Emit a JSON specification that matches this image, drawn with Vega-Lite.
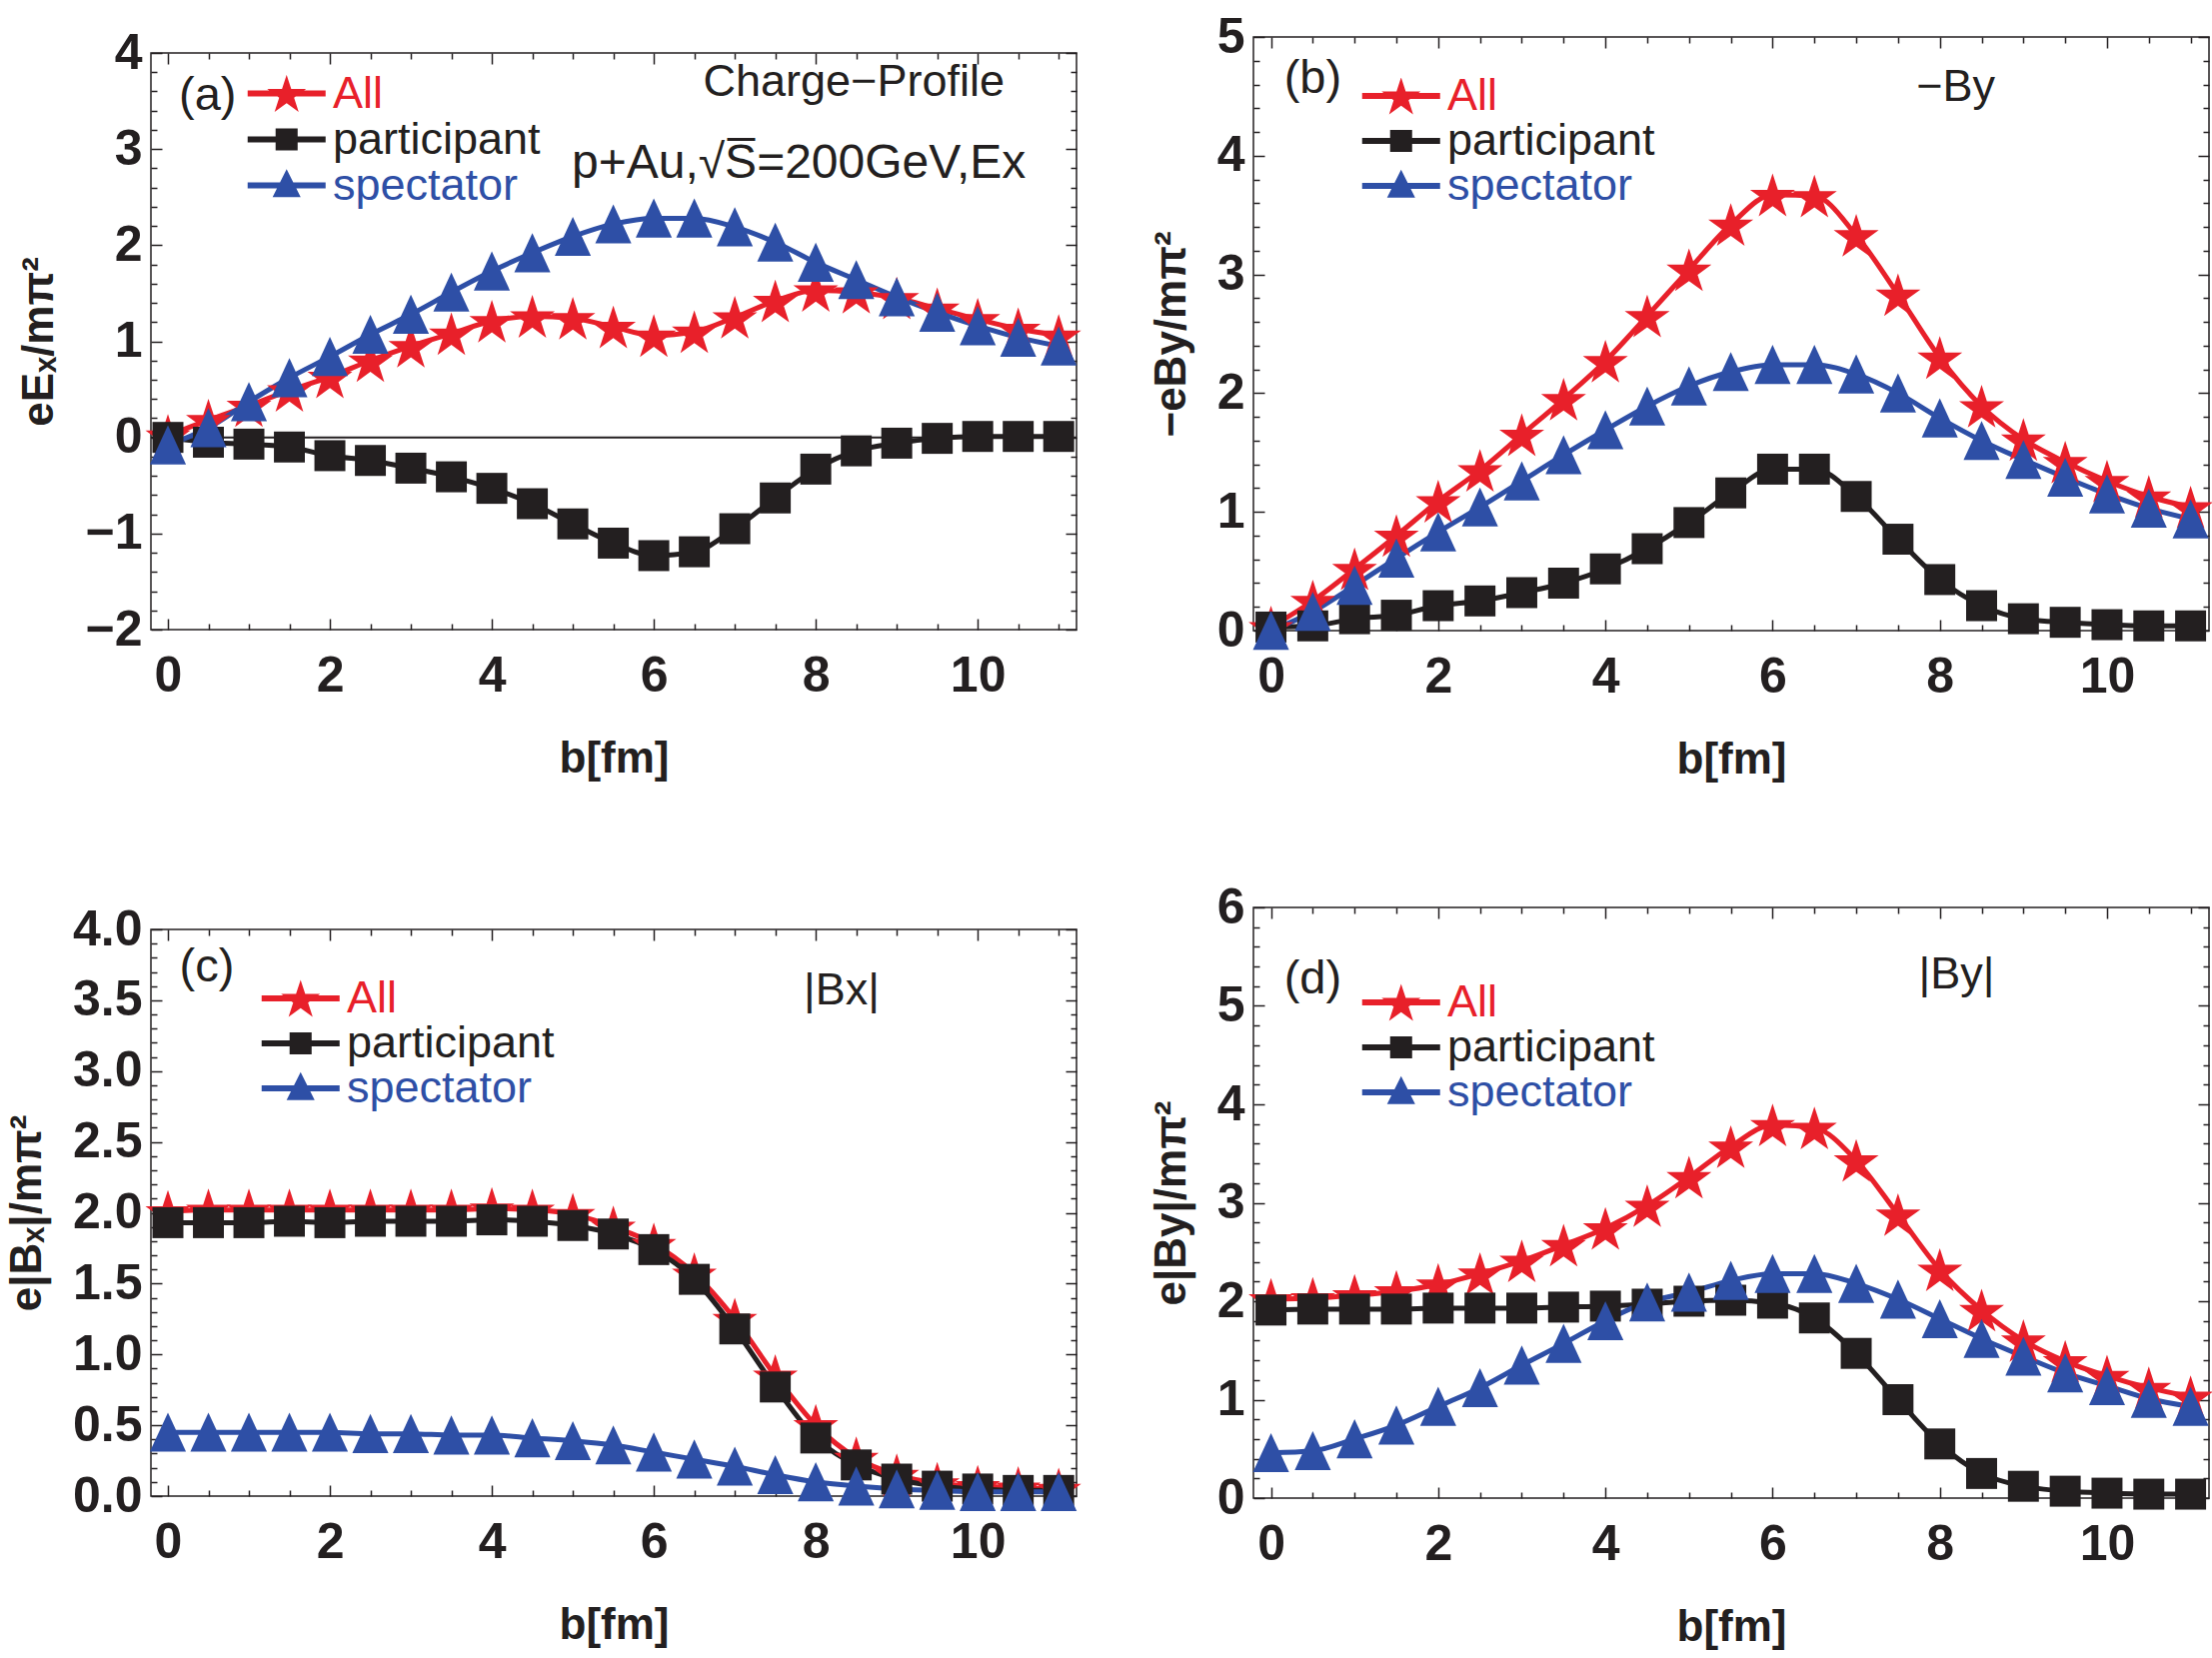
{
  "$schema": "https://vega.github.io/schema/vega-lite/v6.json",
  "background": "white",
  "padding": {"left": 4, "top": 10, "right": 0, "bottom": 0},
  "datasets": {
    "a": [
      {"b": 0, "All": 0.02, "participant": 0.0, "spectator": -0.08},
      {"b": 0.5, "All": 0.18, "participant": -0.05, "spectator": 0.10},
      {"b": 1, "All": 0.33, "participant": -0.07, "spectator": 0.37},
      {"b": 1.5, "All": 0.49, "participant": -0.10, "spectator": 0.62},
      {"b": 2, "All": 0.63, "participant": -0.19, "spectator": 0.84},
      {"b": 2.5, "All": 0.80, "participant": -0.24, "spectator": 1.07},
      {"b": 3, "All": 0.95, "participant": -0.32, "spectator": 1.28},
      {"b": 3.5, "All": 1.08, "participant": -0.41, "spectator": 1.51},
      {"b": 4, "All": 1.21, "participant": -0.53, "spectator": 1.73},
      {"b": 4.5, "All": 1.26, "participant": -0.69, "spectator": 1.92},
      {"b": 5, "All": 1.24, "participant": -0.90, "spectator": 2.09},
      {"b": 5.5, "All": 1.15, "participant": -1.10, "spectator": 2.22},
      {"b": 6, "All": 1.06, "participant": -1.23, "spectator": 2.28},
      {"b": 6.5, "All": 1.10, "participant": -1.19, "spectator": 2.28},
      {"b": 7, "All": 1.25, "participant": -0.95, "spectator": 2.19},
      {"b": 7.5, "All": 1.42, "participant": -0.63, "spectator": 2.03},
      {"b": 8, "All": 1.53, "participant": -0.33, "spectator": 1.82},
      {"b": 8.5, "All": 1.51, "participant": -0.14, "spectator": 1.64},
      {"b": 9, "All": 1.45, "participant": -0.06, "spectator": 1.46},
      {"b": 9.5, "All": 1.34, "participant": -0.01, "spectator": 1.30},
      {"b": 10, "All": 1.23, "participant": 0.01, "spectator": 1.16},
      {"b": 10.5, "All": 1.13, "participant": 0.01, "spectator": 1.04},
      {"b": 11, "All": 1.06, "participant": 0.01, "spectator": 0.95}
    ],
    "b": [
      {"b": 0, "All": 0.03, "participant": 0.03, "spectator": 0.0},
      {"b": 0.5, "All": 0.25, "participant": 0.04, "spectator": 0.16},
      {"b": 1, "All": 0.52, "participant": 0.10, "spectator": 0.38},
      {"b": 1.5, "All": 0.80, "participant": 0.13, "spectator": 0.61},
      {"b": 2, "All": 1.09, "participant": 0.21, "spectator": 0.83},
      {"b": 2.5, "All": 1.35, "participant": 0.25, "spectator": 1.04},
      {"b": 3, "All": 1.65, "participant": 0.32, "spectator": 1.26},
      {"b": 3.5, "All": 1.95, "participant": 0.40, "spectator": 1.48},
      {"b": 4, "All": 2.27, "participant": 0.52, "spectator": 1.69},
      {"b": 4.5, "All": 2.65, "participant": 0.69, "spectator": 1.89},
      {"b": 5, "All": 3.04, "participant": 0.91, "spectator": 2.06},
      {"b": 5.5, "All": 3.42, "participant": 1.16, "spectator": 2.18},
      {"b": 6, "All": 3.67, "participant": 1.36, "spectator": 2.24},
      {"b": 6.5, "All": 3.66, "participant": 1.36, "spectator": 2.24},
      {"b": 7, "All": 3.33, "participant": 1.13, "spectator": 2.16},
      {"b": 7.5, "All": 2.83, "participant": 0.77, "spectator": 2.00},
      {"b": 8, "All": 2.30, "participant": 0.43, "spectator": 1.79},
      {"b": 8.5, "All": 1.89, "participant": 0.21, "spectator": 1.60},
      {"b": 9, "All": 1.61, "participant": 0.10, "spectator": 1.44},
      {"b": 9.5, "All": 1.42, "participant": 0.07, "spectator": 1.29},
      {"b": 10, "All": 1.26, "participant": 0.05, "spectator": 1.15},
      {"b": 10.5, "All": 1.13, "participant": 0.04, "spectator": 1.03},
      {"b": 11, "All": 1.04, "participant": 0.04, "spectator": 0.94}
    ],
    "c": [
      {"b": 0, "All": 2.01, "participant": 1.93, "spectator": 0.45},
      {"b": 0.5, "All": 2.02, "participant": 1.93, "spectator": 0.45},
      {"b": 1, "All": 2.02, "participant": 1.93, "spectator": 0.45},
      {"b": 1.5, "All": 2.02, "participant": 1.94, "spectator": 0.45},
      {"b": 2, "All": 2.02, "participant": 1.93, "spectator": 0.45},
      {"b": 2.5, "All": 2.02, "participant": 1.94, "spectator": 0.44},
      {"b": 3, "All": 2.02, "participant": 1.94, "spectator": 0.44},
      {"b": 3.5, "All": 2.02, "participant": 1.94, "spectator": 0.43},
      {"b": 4, "All": 2.03, "participant": 1.95, "spectator": 0.43},
      {"b": 4.5, "All": 2.02, "participant": 1.94, "spectator": 0.41},
      {"b": 5, "All": 1.99, "participant": 1.91, "spectator": 0.39},
      {"b": 5.5, "All": 1.90, "participant": 1.85, "spectator": 0.36},
      {"b": 6, "All": 1.78, "participant": 1.74, "spectator": 0.31},
      {"b": 6.5, "All": 1.57, "participant": 1.53, "spectator": 0.26},
      {"b": 7, "All": 1.25, "participant": 1.18, "spectator": 0.21},
      {"b": 7.5, "All": 0.85, "participant": 0.77, "spectator": 0.15},
      {"b": 8, "All": 0.50, "participant": 0.41, "spectator": 0.10},
      {"b": 8.5, "All": 0.27, "participant": 0.22, "spectator": 0.07},
      {"b": 9, "All": 0.15, "participant": 0.12, "spectator": 0.05},
      {"b": 9.5, "All": 0.09, "participant": 0.07, "spectator": 0.04},
      {"b": 10, "All": 0.07, "participant": 0.05, "spectator": 0.03},
      {"b": 10.5, "All": 0.06, "participant": 0.04, "spectator": 0.03},
      {"b": 11, "All": 0.05, "participant": 0.04, "spectator": 0.03}
    ],
    "d": [
      {"b": 0, "All": 2.02, "participant": 1.91, "spectator": 0.46},
      {"b": 0.5, "All": 2.03, "participant": 1.92, "spectator": 0.48},
      {"b": 1, "All": 2.06, "participant": 1.92, "spectator": 0.60},
      {"b": 1.5, "All": 2.10, "participant": 1.92, "spectator": 0.74},
      {"b": 2, "All": 2.17, "participant": 1.93, "spectator": 0.93},
      {"b": 2.5, "All": 2.28, "participant": 1.93, "spectator": 1.12},
      {"b": 3, "All": 2.41, "participant": 1.93, "spectator": 1.35},
      {"b": 3.5, "All": 2.57, "participant": 1.94, "spectator": 1.57},
      {"b": 4, "All": 2.74, "participant": 1.95, "spectator": 1.80},
      {"b": 4.5, "All": 2.97, "participant": 1.97, "spectator": 1.99},
      {"b": 5, "All": 3.26, "participant": 2.00, "spectator": 2.09},
      {"b": 5.5, "All": 3.57, "participant": 2.01, "spectator": 2.21},
      {"b": 6, "All": 3.79, "participant": 1.98, "spectator": 2.28},
      {"b": 6.5, "All": 3.76, "participant": 1.83, "spectator": 2.28},
      {"b": 7, "All": 3.43, "participant": 1.47, "spectator": 2.18},
      {"b": 7.5, "All": 2.88, "participant": 1.00, "spectator": 2.02},
      {"b": 8, "All": 2.32, "participant": 0.55, "spectator": 1.82},
      {"b": 8.5, "All": 1.91, "participant": 0.25, "spectator": 1.62},
      {"b": 9, "All": 1.60, "participant": 0.12, "spectator": 1.44},
      {"b": 9.5, "All": 1.39, "participant": 0.07, "spectator": 1.27},
      {"b": 10, "All": 1.24, "participant": 0.05, "spectator": 1.14},
      {"b": 10.5, "All": 1.12, "participant": 0.04, "spectator": 1.01},
      {"b": 11, "All": 1.03, "participant": 0.04, "spectator": 0.93}
    ]
  },
  "hconcat": [
    {
      "concat": [
        {
          "concat": [
            {
              "width": 1,
              "height": 17,
              "view": {"stroke": null},
              "data": {"values": [{}]},
              "mark": {"type": "point", "size": 0, "opacity": 0},
              "encoding": {}
            },
            {
              "width": 926,
              "height": 577,
              "data": {"name": "a"},
              "transform": [{"fold": ["All", "participant", "spectator"], "as": ["series", "v"]}],
              "layer": [
                {
                  "data": {"values": [{}]},
                  "mark": {"type": "rule", "color": "#231f20", "strokeWidth": 2},
                  "encoding": {"y": {"datum": 0, "type": "quantitative", "axis": null}}
                },
                {
                  "mark": {"type": "line", "strokeWidth": 5, "interpolate": "monotone"},
                  "encoding": {
                    "x": {
                      "field": "b", "type": "quantitative",
                      "scale": {"domain": [-0.21, 11.22], "nice": false, "zero": false},
                      "axis": {
                        "orient": "bottom", "title": "b[fm]",
                        "values": [0, 0.5, 1, 1.5, 2, 2.5, 3, 3.5, 4, 4.5, 5, 5.5, 6, 6.5, 7, 7.5, 8, 8.5, 9, 9.5, 10, 10.5, 11],
                        "labelExpr": "datum.value % 2 === 0 ? format(datum.value, 'd') : ''",
                        "tickSize": {"condition": {"test": "datum.value % 2 === 0", "value": -11}, "value": -6},
                        "labelPadding": 32, "titlePadding": 31
                      }
                    },
                    "y": {
                      "field": "v", "type": "quantitative",
                      "scale": {"domain": [-2, 4], "nice": false, "zero": false},
                      "axis": {
                        "orient": "left", "title": "eEₓ/mπ²",
                        "values": [-2, -1.8, -1.6, -1.4, -1.2, -1, -0.8, -0.6, -0.4, -0.2, 0, 0.2, 0.4, 0.6, 0.8, 1, 1.2, 1.4, 1.6, 1.8, 2, 2.2, 2.4, 2.6, 2.8, 3, 3.2, 3.4, 3.6, 3.8, 4],
                        "labelExpr": "datum.value % 1 === 0 ? format(datum.value, 'd') : ''",
                        "tickSize": {"condition": {"test": "datum.value % 1 === 0", "value": -11}, "value": -6},
                        "labelPadding": 20, "titlePadding": 23
                      }
                    },
                    "color": {
                      "field": "series", "type": "nominal",
                      "scale": {"domain": ["All", "participant", "spectator"], "range": ["#e8202a", "#231f20", "#2e4fa6"]},
                      "legend": {
                        "title": null, "orient": "none", "legendX": 93, "legendY": 22, "clipHeight": 37,
                        "encode": {
                          "symbols": {"update": {
                            "shape": {"signal": "datum.value === 'All' ? 'M-1.25,-0.203H3.95V0.203H-1.25Z M1.35,-1.241L1.657,-0.296L2.651,-0.296L1.847,0.288L2.154,1.234L1.35,0.65L0.546,1.234L0.853,0.288L0.049,-0.296L1.043,-0.296Z' : datum.value === 'participant' ? 'M-1.25,-0.203H3.95V0.203H-1.25Z M0.615,-0.735H2.085V0.735H0.615Z' : 'M-1.25,-0.203H3.95V0.203H-1.25Z M1.35,-1.077L2.287,0.785L0.413,0.785Z'"},
                            "fill": {"signal": "datum.value === 'All' ? '#e8202a' : datum.value === 'participant' ? '#231f20' : '#2e4fa6'"},
                            "stroke": {"value": "transparent"},
                            "strokeWidth": {"value": 0},
                            "opacity": {"value": 1}
                          }},
                          "labels": {"update": {
                            "fill": {"signal": "datum.value === 'All' ? '#e8202a' : datum.value === 'participant' ? '#231f20' : '#2e4fa6'"}
                          }}
                        }
                      }
                    }
                  }
                },
                {
                  "transform": [{"filter": "datum.series === 'All'"}],
                  "mark": {"type": "point", "filled": true, "opacity": 1, "strokeWidth": 0, "size": 1850, "color": "#e8202a", "shape": "M0,-0.995L0.247,-0.235L1.046,-0.235L0.4,0.235L0.647,0.995L0,0.525L-0.647,0.995L-0.4,0.235L-1.046,-0.235L-0.247,-0.235Z"},
                  "encoding": {"x": {"field": "b", "type": "quantitative", "axis": null}, "y": {"field": "v", "type": "quantitative", "axis": null}}
                },
                {
                  "transform": [{"filter": "datum.series === 'participant'"}],
                  "mark": {"type": "point", "filled": true, "opacity": 1, "strokeWidth": 0, "size": 1850, "color": "#231f20", "shape": "M-0.72,-0.72H0.72V0.72H-0.72Z"},
                  "encoding": {"x": {"field": "b", "type": "quantitative", "axis": null}, "y": {"field": "v", "type": "quantitative", "axis": null}}
                },
                {
                  "transform": [{"filter": "datum.series === 'spectator'"}],
                  "mark": {"type": "point", "filled": true, "opacity": 1, "strokeWidth": 0, "size": 1850, "color": "#2e4fa6", "shape": "M0,-0.92L0.84,0.9L-0.84,0.9Z"},
                  "encoding": {
                    "x": {
                      "field": "b", "type": "quantitative",
                      "axis": {
                        "orient": "top", "title": null, "labels": false,
                        "values": [0, 0.5, 1, 1.5, 2, 2.5, 3, 3.5, 4, 4.5, 5, 5.5, 6, 6.5, 7, 7.5, 8, 8.5, 9, 9.5, 10, 10.5, 11],
                        "tickSize": {"condition": {"test": "datum.value % 2 === 0", "value": -11}, "value": -6}
                      }
                    },
                    "y": {
                      "field": "v", "type": "quantitative",
                      "axis": {
                        "orient": "right", "title": null, "labels": false,
                        "values": [-2, -1.8, -1.6, -1.4, -1.2, -1, -0.8, -0.6, -0.4, -0.2, 0, 0.2, 0.4, 0.6, 0.8, 1, 1.2, 1.4, 1.6, 1.8, 2, 2.2, 2.4, 2.6, 2.8, 3, 3.2, 3.4, 3.6, 3.8, 4],
                        "tickSize": {"condition": {"test": "datum.value % 1 === 0", "value": -11}, "value": -6}
                      }
                    }
                  }
                },
                {
                  "data": {"values": [{}]},
                  "mark": {"type": "text", "text": "(a)", "fontSize": 47, "align": "center", "baseline": "middle"},
                  "encoding": {"x": {"datum": 0.49, "type": "quantitative", "axis": null}, "y": {"datum": 3.55, "type": "quantitative", "axis": null}}
                },
                {
                  "data": {"values": [{}]},
                  "mark": {"type": "text", "text": "Charge−Profile", "fontSize": 45, "align": "center", "baseline": "middle"},
                  "encoding": {"x": {"datum": 8.47, "type": "quantitative", "axis": null}, "y": {"datum": 3.70, "type": "quantitative", "axis": null}}
                },
                {
                  "data": {"values": [{}]},
                  "mark": {"type": "text", "text": "p+Au,√S̅=200GeV,Ex", "fontSize": 48, "align": "center", "baseline": "middle"},
                  "encoding": {"x": {"datum": 7.79, "type": "quantitative", "axis": null}, "y": {"datum": 2.85, "type": "quantitative", "axis": null}}
                }
              ],
              "resolve": {"axis": {"x": "independent", "y": "independent"}}
            }
          ],
          "columns": 1,
          "spacing": 0,
          "resolve": {"scale": {"color": "independent"}, "legend": {"color": "independent"}}
        },
        {
          "width": 926,
          "height": 567,
          "data": {"name": "c"},
          "transform": [{"fold": ["All", "participant", "spectator"], "as": ["series", "v"]}],
          "layer": [
            {
              "mark": {"type": "line", "strokeWidth": 5, "interpolate": "monotone"},
              "encoding": {
                "x": {
                  "field": "b", "type": "quantitative",
                  "scale": {"domain": [-0.21, 11.22], "nice": false, "zero": false},
                  "axis": {
                    "orient": "bottom", "title": "b[fm]",
                    "values": [0, 0.5, 1, 1.5, 2, 2.5, 3, 3.5, 4, 4.5, 5, 5.5, 6, 6.5, 7, 7.5, 8, 8.5, 9, 9.5, 10, 10.5, 11],
                    "labelExpr": "datum.value % 2 === 0 ? format(datum.value, 'd') : ''",
                    "tickSize": {"condition": {"test": "datum.value % 2 === 0", "value": -11}, "value": -6},
                    "labelPadding": 32, "titlePadding": 31
                  }
                },
                "y": {
                  "field": "v", "type": "quantitative",
                  "scale": {"domain": [0, 4], "nice": false, "zero": false},
                  "axis": {
                    "orient": "left", "title": "e|Bₓ|/mπ²",
                    "values": [0, 0.1, 0.2, 0.3, 0.4, 0.5, 0.6, 0.7, 0.8, 0.9, 1, 1.1, 1.2, 1.3, 1.4, 1.5, 1.6, 1.7, 1.8, 1.9, 2, 2.1, 2.2, 2.3, 2.4, 2.5, 2.6, 2.7, 2.8, 2.9, 3, 3.1, 3.2, 3.3, 3.4, 3.5, 3.6, 3.7, 3.8, 3.9, 4],
                    "labelExpr": "abs(datum.value * 2 - round(datum.value * 2)) < 0.001 ? format(datum.value, '.1f') : ''",
                    "tickSize": {"condition": {"test": "abs(datum.value * 2 - round(datum.value * 2)) < 0.001", "value": -11}, "value": -6},
                    "labelPadding": 20, "titlePadding": 23
                  }
                },
                "color": {
                  "field": "series", "type": "nominal",
                  "scale": {"domain": ["All", "participant", "spectator"], "range": ["#e8202a", "#231f20", "#2e4fa6"]},
                  "legend": {
                    "title": null, "orient": "none", "legendX": 107, "legendY": 48, "clipHeight": 42,
                    "encode": {
                      "symbols": {"update": {
                        "shape": {"signal": "datum.value === 'All' ? 'M-1.25,-0.203H3.95V0.203H-1.25Z M1.35,-1.241L1.657,-0.296L2.651,-0.296L1.847,0.288L2.154,1.234L1.35,0.65L0.546,1.234L0.853,0.288L0.049,-0.296L1.043,-0.296Z' : datum.value === 'participant' ? 'M-1.25,-0.203H3.95V0.203H-1.25Z M0.615,-0.735H2.085V0.735H0.615Z' : 'M-1.25,-0.203H3.95V0.203H-1.25Z M1.35,-1.077L2.287,0.785L0.413,0.785Z'"},
                        "fill": {"signal": "datum.value === 'All' ? '#e8202a' : datum.value === 'participant' ? '#231f20' : '#2e4fa6'"},
                        "stroke": {"value": "transparent"},
                        "strokeWidth": {"value": 0},
                        "opacity": {"value": 1}
                      }},
                      "labels": {"update": {
                        "fill": {"signal": "datum.value === 'All' ? '#e8202a' : datum.value === 'participant' ? '#231f20' : '#2e4fa6'"}
                      }}
                    }
                  }
                }
              }
            },
            {
              "transform": [{"filter": "datum.series === 'All'"}],
              "mark": {"type": "point", "filled": true, "opacity": 1, "strokeWidth": 0, "size": 1850, "color": "#e8202a", "shape": "M0,-0.995L0.247,-0.235L1.046,-0.235L0.4,0.235L0.647,0.995L0,0.525L-0.647,0.995L-0.4,0.235L-1.046,-0.235L-0.247,-0.235Z"},
              "encoding": {"x": {"field": "b", "type": "quantitative", "axis": null}, "y": {"field": "v", "type": "quantitative", "axis": null}}
            },
            {
              "transform": [{"filter": "datum.series === 'participant'"}],
              "mark": {"type": "point", "filled": true, "opacity": 1, "strokeWidth": 0, "size": 1850, "color": "#231f20", "shape": "M-0.72,-0.72H0.72V0.72H-0.72Z"},
              "encoding": {"x": {"field": "b", "type": "quantitative", "axis": null}, "y": {"field": "v", "type": "quantitative", "axis": null}}
            },
            {
              "transform": [{"filter": "datum.series === 'spectator'"}],
              "mark": {"type": "point", "filled": true, "opacity": 1, "strokeWidth": 0, "size": 1850, "color": "#2e4fa6", "shape": "M0,-0.92L0.84,0.9L-0.84,0.9Z"},
              "encoding": {
                "x": {
                  "field": "b", "type": "quantitative",
                  "axis": {
                    "orient": "top", "title": null, "labels": false,
                    "values": [0, 0.5, 1, 1.5, 2, 2.5, 3, 3.5, 4, 4.5, 5, 5.5, 6, 6.5, 7, 7.5, 8, 8.5, 9, 9.5, 10, 10.5, 11],
                    "tickSize": {"condition": {"test": "datum.value % 2 === 0", "value": -11}, "value": -6}
                  }
                },
                "y": {
                  "field": "v", "type": "quantitative",
                  "axis": {
                    "orient": "right", "title": null, "labels": false,
                    "values": [0, 0.1, 0.2, 0.3, 0.4, 0.5, 0.6, 0.7, 0.8, 0.9, 1, 1.1, 1.2, 1.3, 1.4, 1.5, 1.6, 1.7, 1.8, 1.9, 2, 2.1, 2.2, 2.3, 2.4, 2.5, 2.6, 2.7, 2.8, 2.9, 3, 3.1, 3.2, 3.3, 3.4, 3.5, 3.6, 3.7, 3.8, 3.9, 4],
                    "tickSize": {"condition": {"test": "abs(datum.value * 2 - round(datum.value * 2)) < 0.001", "value": -11}, "value": -6}
                  }
                }
              }
            },
            {
              "data": {"values": [{}]},
              "mark": {"type": "text", "text": "(c)", "fontSize": 47, "align": "center", "baseline": "middle"},
              "encoding": {"x": {"datum": 0.48, "type": "quantitative", "axis": null}, "y": {"datum": 3.73, "type": "quantitative", "axis": null}}
            },
            {
              "data": {"values": [{}]},
              "mark": {"type": "text", "text": "|Bx|", "fontSize": 45, "align": "center", "baseline": "middle"},
              "encoding": {"x": {"datum": 8.32, "type": "quantitative", "axis": null}, "y": {"datum": 3.57, "type": "quantitative", "axis": null}}
            }
          ],
          "resolve": {"axis": {"x": "independent", "y": "independent"}}
        }
      ],
      "columns": 1,
      "spacing": 122,
      "resolve": {"scale": {"color": "independent"}, "legend": {"color": "independent"}}
    },
    {
      "concat": [
        {
          "concat": [
            {
              "width": 1,
              "height": 1,
              "view": {"stroke": null},
              "data": {"values": [{}]},
              "mark": {"type": "point", "size": 0, "opacity": 0},
              "encoding": {}
            },
            {
              "width": 956,
              "height": 594,
              "data": {"name": "b"},
              "transform": [{"fold": ["All", "participant", "spectator"], "as": ["series", "v"]}],
              "layer": [
                {
                  "mark": {"type": "line", "strokeWidth": 5, "interpolate": "monotone"},
                  "encoding": {
                    "x": {
                      "field": "b", "type": "quantitative",
                      "scale": {"domain": [-0.21, 11.22], "nice": false, "zero": false},
                      "axis": {
                        "orient": "bottom", "title": "b[fm]",
                        "values": [0, 0.5, 1, 1.5, 2, 2.5, 3, 3.5, 4, 4.5, 5, 5.5, 6, 6.5, 7, 7.5, 8, 8.5, 9, 9.5, 10, 10.5, 11],
                        "labelExpr": "datum.value % 2 === 0 ? format(datum.value, 'd') : ''",
                        "tickSize": {"condition": {"test": "datum.value % 2 === 0", "value": -11}, "value": -6},
                        "labelPadding": 32, "titlePadding": 31
                      }
                    },
                    "y": {
                      "field": "v", "type": "quantitative",
                      "scale": {"domain": [0, 5], "nice": false, "zero": false},
                      "axis": {
                        "orient": "left", "title": "−eBy/mπ²",
                        "values": [0, 0.2, 0.4, 0.6, 0.8, 1, 1.2, 1.4, 1.6, 1.8, 2, 2.2, 2.4, 2.6, 2.8, 3, 3.2, 3.4, 3.6, 3.8, 4, 4.2, 4.4, 4.6, 4.8, 5],
                        "labelExpr": "datum.value % 1 === 0 ? format(datum.value, 'd') : ''",
                        "tickSize": {"condition": {"test": "datum.value % 1 === 0", "value": -11}, "value": -6},
                        "labelPadding": 20, "titlePadding": 23
                      }
                    },
                    "color": {
                      "field": "series", "type": "nominal",
                      "scale": {"domain": ["All", "participant", "spectator"], "range": ["#e8202a", "#231f20", "#2e4fa6"]},
                      "legend": {
                        "title": null, "orient": "none", "legendX": 105, "legendY": 41, "clipHeight": 36,
                        "encode": {
                          "symbols": {"update": {
                            "shape": {"signal": "datum.value === 'All' ? 'M-1.25,-0.203H3.95V0.203H-1.25Z M1.35,-1.241L1.657,-0.296L2.651,-0.296L1.847,0.288L2.154,1.234L1.35,0.65L0.546,1.234L0.853,0.288L0.049,-0.296L1.043,-0.296Z' : datum.value === 'participant' ? 'M-1.25,-0.203H3.95V0.203H-1.25Z M0.615,-0.735H2.085V0.735H0.615Z' : 'M-1.25,-0.203H3.95V0.203H-1.25Z M1.35,-1.077L2.287,0.785L0.413,0.785Z'"},
                            "fill": {"signal": "datum.value === 'All' ? '#e8202a' : datum.value === 'participant' ? '#231f20' : '#2e4fa6'"},
                            "stroke": {"value": "transparent"},
                            "strokeWidth": {"value": 0},
                            "opacity": {"value": 1}
                          }},
                          "labels": {"update": {
                            "fill": {"signal": "datum.value === 'All' ? '#e8202a' : datum.value === 'participant' ? '#231f20' : '#2e4fa6'"}
                          }}
                        }
                      }
                    }
                  }
                },
                {
                  "transform": [{"filter": "datum.series === 'All'"}],
                  "mark": {"type": "point", "filled": true, "opacity": 1, "strokeWidth": 0, "size": 1850, "color": "#e8202a", "shape": "M0,-0.995L0.247,-0.235L1.046,-0.235L0.4,0.235L0.647,0.995L0,0.525L-0.647,0.995L-0.4,0.235L-1.046,-0.235L-0.247,-0.235Z"},
                  "encoding": {"x": {"field": "b", "type": "quantitative", "axis": null}, "y": {"field": "v", "type": "quantitative", "axis": null}}
                },
                {
                  "transform": [{"filter": "datum.series === 'participant'"}],
                  "mark": {"type": "point", "filled": true, "opacity": 1, "strokeWidth": 0, "size": 1850, "color": "#231f20", "shape": "M-0.72,-0.72H0.72V0.72H-0.72Z"},
                  "encoding": {"x": {"field": "b", "type": "quantitative", "axis": null}, "y": {"field": "v", "type": "quantitative", "axis": null}}
                },
                {
                  "transform": [{"filter": "datum.series === 'spectator'"}],
                  "mark": {"type": "point", "filled": true, "opacity": 1, "strokeWidth": 0, "size": 1850, "color": "#2e4fa6", "shape": "M0,-0.92L0.84,0.9L-0.84,0.9Z"},
                  "encoding": {
                    "x": {
                      "field": "b", "type": "quantitative",
                      "axis": {
                        "orient": "top", "title": null, "labels": false,
                        "values": [0, 0.5, 1, 1.5, 2, 2.5, 3, 3.5, 4, 4.5, 5, 5.5, 6, 6.5, 7, 7.5, 8, 8.5, 9, 9.5, 10, 10.5, 11],
                        "tickSize": {"condition": {"test": "datum.value % 2 === 0", "value": -11}, "value": -6}
                      }
                    },
                    "y": {
                      "field": "v", "type": "quantitative",
                      "axis": {
                        "orient": "right", "title": null, "labels": false,
                        "values": [0, 0.2, 0.4, 0.6, 0.8, 1, 1.2, 1.4, 1.6, 1.8, 2, 2.2, 2.4, 2.6, 2.8, 3, 3.2, 3.4, 3.6, 3.8, 4, 4.2, 4.4, 4.6, 4.8, 5],
                        "tickSize": {"condition": {"test": "datum.value % 1 === 0", "value": -11}, "value": -6}
                      }
                    }
                  }
                },
                {
                  "data": {"values": [{}]},
                  "mark": {"type": "text", "text": "(b)", "fontSize": 47, "align": "center", "baseline": "middle"},
                  "encoding": {"x": {"datum": 0.5, "type": "quantitative", "axis": null}, "y": {"datum": 4.65, "type": "quantitative", "axis": null}}
                },
                {
                  "data": {"values": [{}]},
                  "mark": {"type": "text", "text": "−By", "fontSize": 45, "align": "center", "baseline": "middle"},
                  "encoding": {"x": {"datum": 8.19, "type": "quantitative", "axis": null}, "y": {"datum": 4.58, "type": "quantitative", "axis": null}}
                }
              ],
              "resolve": {"axis": {"x": "independent", "y": "independent"}}
            }
          ],
          "columns": 1,
          "spacing": 0,
          "resolve": {"scale": {"color": "independent"}, "legend": {"color": "independent"}}
        },
        {
          "width": 956,
          "height": 591,
          "data": {"name": "d"},
          "transform": [{"fold": ["All", "participant", "spectator"], "as": ["series", "v"]}],
          "layer": [
            {
              "mark": {"type": "line", "strokeWidth": 5, "interpolate": "monotone"},
              "encoding": {
                "x": {
                  "field": "b", "type": "quantitative",
                  "scale": {"domain": [-0.21, 11.22], "nice": false, "zero": false},
                  "axis": {
                    "orient": "bottom", "title": "b[fm]",
                    "values": [0, 0.5, 1, 1.5, 2, 2.5, 3, 3.5, 4, 4.5, 5, 5.5, 6, 6.5, 7, 7.5, 8, 8.5, 9, 9.5, 10, 10.5, 11],
                    "labelExpr": "datum.value % 2 === 0 ? format(datum.value, 'd') : ''",
                    "tickSize": {"condition": {"test": "datum.value % 2 === 0", "value": -11}, "value": -6},
                    "labelPadding": 32, "titlePadding": 31
                  }
                },
                "y": {
                  "field": "v", "type": "quantitative",
                  "scale": {"domain": [0, 6], "nice": false, "zero": false},
                  "axis": {
                    "orient": "left", "title": "e|By|/mπ²",
                    "values": [0, 0.2, 0.4, 0.6, 0.8, 1, 1.2, 1.4, 1.6, 1.8, 2, 2.2, 2.4, 2.6, 2.8, 3, 3.2, 3.4, 3.6, 3.8, 4, 4.2, 4.4, 4.6, 4.8, 5, 5.2, 5.4, 5.6, 5.8, 6],
                    "labelExpr": "datum.value % 1 === 0 ? format(datum.value, 'd') : ''",
                    "tickSize": {"condition": {"test": "datum.value % 1 === 0", "value": -11}, "value": -6},
                    "labelPadding": 20, "titlePadding": 23
                  }
                },
                "color": {
                  "field": "series", "type": "nominal",
                  "scale": {"domain": ["All", "participant", "spectator"], "range": ["#e8202a", "#231f20", "#2e4fa6"]},
                  "legend": {
                    "title": null, "orient": "none", "legendX": 105, "legendY": 75, "clipHeight": 40,
                    "encode": {
                      "symbols": {"update": {
                        "shape": {"signal": "datum.value === 'All' ? 'M-1.25,-0.203H3.95V0.203H-1.25Z M1.35,-1.241L1.657,-0.296L2.651,-0.296L1.847,0.288L2.154,1.234L1.35,0.65L0.546,1.234L0.853,0.288L0.049,-0.296L1.043,-0.296Z' : datum.value === 'participant' ? 'M-1.25,-0.203H3.95V0.203H-1.25Z M0.615,-0.735H2.085V0.735H0.615Z' : 'M-1.25,-0.203H3.95V0.203H-1.25Z M1.35,-1.077L2.287,0.785L0.413,0.785Z'"},
                        "fill": {"signal": "datum.value === 'All' ? '#e8202a' : datum.value === 'participant' ? '#231f20' : '#2e4fa6'"},
                        "stroke": {"value": "transparent"},
                        "strokeWidth": {"value": 0},
                        "opacity": {"value": 1}
                      }},
                      "labels": {"update": {
                        "fill": {"signal": "datum.value === 'All' ? '#e8202a' : datum.value === 'participant' ? '#231f20' : '#2e4fa6'"}
                      }}
                    }
                  }
                }
              }
            },
            {
              "transform": [{"filter": "datum.series === 'All'"}],
              "mark": {"type": "point", "filled": true, "opacity": 1, "strokeWidth": 0, "size": 1850, "color": "#e8202a", "shape": "M0,-0.995L0.247,-0.235L1.046,-0.235L0.4,0.235L0.647,0.995L0,0.525L-0.647,0.995L-0.4,0.235L-1.046,-0.235L-0.247,-0.235Z"},
              "encoding": {"x": {"field": "b", "type": "quantitative", "axis": null}, "y": {"field": "v", "type": "quantitative", "axis": null}}
            },
            {
              "transform": [{"filter": "datum.series === 'participant'"}],
              "mark": {"type": "point", "filled": true, "opacity": 1, "strokeWidth": 0, "size": 1850, "color": "#231f20", "shape": "M-0.72,-0.72H0.72V0.72H-0.72Z"},
              "encoding": {"x": {"field": "b", "type": "quantitative", "axis": null}, "y": {"field": "v", "type": "quantitative", "axis": null}}
            },
            {
              "transform": [{"filter": "datum.series === 'spectator'"}],
              "mark": {"type": "point", "filled": true, "opacity": 1, "strokeWidth": 0, "size": 1850, "color": "#2e4fa6", "shape": "M0,-0.92L0.84,0.9L-0.84,0.9Z"},
              "encoding": {
                "x": {
                  "field": "b", "type": "quantitative",
                  "axis": {
                    "orient": "top", "title": null, "labels": false,
                    "values": [0, 0.5, 1, 1.5, 2, 2.5, 3, 3.5, 4, 4.5, 5, 5.5, 6, 6.5, 7, 7.5, 8, 8.5, 9, 9.5, 10, 10.5, 11],
                    "tickSize": {"condition": {"test": "datum.value % 2 === 0", "value": -11}, "value": -6}
                  }
                },
                "y": {
                  "field": "v", "type": "quantitative",
                  "axis": {
                    "orient": "right", "title": null, "labels": false,
                    "values": [0, 0.2, 0.4, 0.6, 0.8, 1, 1.2, 1.4, 1.6, 1.8, 2, 2.2, 2.4, 2.6, 2.8, 3, 3.2, 3.4, 3.6, 3.8, 4, 4.2, 4.4, 4.6, 4.8, 5, 5.2, 5.4, 5.6, 5.8, 6],
                    "tickSize": {"condition": {"test": "datum.value % 1 === 0", "value": -11}, "value": -6}
                  }
                }
              }
            },
            {
              "data": {"values": [{}]},
              "mark": {"type": "text", "text": "(d)", "fontSize": 47, "align": "center", "baseline": "middle"},
              "encoding": {"x": {"datum": 0.5, "type": "quantitative", "axis": null}, "y": {"datum": 5.27, "type": "quantitative", "axis": null}}
            },
            {
              "data": {"values": [{}]},
              "mark": {"type": "text", "text": "|By|", "fontSize": 45, "align": "center", "baseline": "middle"},
              "encoding": {"x": {"datum": 8.2, "type": "quantitative", "axis": null}, "y": {"datum": 5.32, "type": "quantitative", "axis": null}}
            }
          ],
          "resolve": {"axis": {"x": "independent", "y": "independent"}}
        }
      ],
      "columns": 1,
      "spacing": 99,
      "resolve": {"scale": {"color": "independent"}, "legend": {"color": "independent"}}
    }
  ],
  "spacing": 66,
  "resolve": {"scale": {"color": "independent"}, "legend": {"color": "independent"}},
  "config": {
    "font": "Liberation Sans, Arial, sans-serif",
    "view": {"stroke": "#231f20", "strokeWidth": 1.5},
    "axis": {
      "domain": false,
      "grid": false,
      "tickColor": "#231f20",
      "tickWidth": 1.5,
      "labelFont": "Liberation Sans, Arial, sans-serif",
      "labelFontSize": 50,
      "labelFontWeight": "bold",
      "labelColor": "#231f20",
      "labelOverlap": false,
      "labelFlush": false,
      "titleFont": "Liberation Sans, Arial, sans-serif",
      "titleFontSize": 44,
      "titleFontWeight": "bold",
      "titleColor": "#231f20"
    },
    "legend": {
      "symbolSize": 900,
      "labelFont": "Liberation Sans, Arial, sans-serif",
      "labelFontSize": 45,
      "labelOffset": 44,
      "labelLimit": 600,
      "padding": 0,
      "rowPadding": 0,
      "symbolLimit": 0
    },
    "text": {"font": "Liberation Sans, Arial, sans-serif", "color": "#231f20"},
    "title": {"color": "#231f20"}
  }
}
